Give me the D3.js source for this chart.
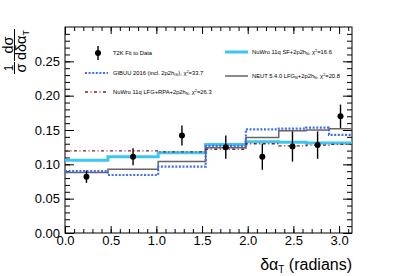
<!DOCTYPE html>
<html>
<head>
<meta charset="utf-8">
<script src="https://cdn.jsdelivr.net/npm/d3@7"></script>
<style>
  body { margin: 0; background: #fff; }
  svg { display: block; font-family: "Liberation Sans", Arial, Helvetica, sans-serif; }
  .tick line { stroke: #000; }
  .domain { display: none; }
</style>
</head>
<body>
<div id="chart"></div>
<script>
// bin edges in delta alpha_T (radians)
var binEdges = [0, 0.47, 1.02, 1.54, 1.98, 2.34, 2.64, 2.89, Math.PI];

// T2K fit to data
var dataVals = [0.082, 0.111, 0.142, 0.125, 0.111, 0.126, 0.128, 0.170];
var dataErrs = [0.009, 0.0125, 0.0145, 0.017, 0.019, 0.022, 0.020, 0.017];

// generator predictions
var nuwroSF  = [0.106, 0.111, 0.117, 0.129, 0.133, 0.132, 0.131, 0.131];
var neut     = [0.088, 0.093, 0.104, 0.124, 0.139, 0.149, 0.150, 0.152];
var gibuu    = [0.090, 0.0845, 0.0966, 0.127, 0.151, 0.152, 0.1535, 0.143];
var nuwroLFG = [0.1195, 0.1195, 0.118, 0.122, 0.130, 0.127, 0.128, 0.129];

var xTicks = [0, 0.5, 1.0, 1.5, 2.0, 2.5, 3.0];
var yTicks = [0, 0.05, 0.10, 0.15, 0.20, 0.25];

var width = 407, height = 276;
var plotL = 65, plotR = 352, plotT = 27, plotB = 233;

var svg = d3.select("#chart").append("svg")
    .attr("width", width)
    .attr("height", height);

var x = d3.scaleLinear().domain([0, Math.PI]).range([plotL, plotR]);
var y = d3.scaleLinear().domain([0, 0.30]).range([plotB, plotT]);

// axes, ROOT style: ticks inside on all four sides
var xMinor = d3.range(0, 3.15, 0.1);
var yMinor = d3.range(0, 0.30, 0.01);

svg.append("g").attr("transform", "translate(0," + plotB + ")")
    .call(d3.axisBottom(x).tickValues(xMinor).tickSize(-4).tickFormat(""));
svg.append("g").attr("transform", "translate(0," + plotB + ")")
    .call(d3.axisBottom(x).tickValues(xTicks).tickSize(-7).tickPadding(3)
      .tickFormat(d3.format(".1f")))
    .selectAll("text").attr("font-size", 13).attr("fill", "#000").attr("font-family", null);
svg.append("g").attr("transform", "translate(0," + plotT + ")")
    .call(d3.axisTop(x).tickValues(xMinor).tickSize(-4).tickFormat(""));
svg.append("g").attr("transform", "translate(0," + plotT + ")")
    .call(d3.axisTop(x).tickValues(xTicks).tickSize(-7).tickFormat(""));

svg.append("g").attr("transform", "translate(" + plotL + ",0)")
    .call(d3.axisLeft(y).tickValues(yMinor).tickSize(-5).tickFormat(""));
svg.append("g").attr("transform", "translate(" + plotL + ",0)")
    .call(d3.axisLeft(y).tickValues(yTicks).tickSize(-9).tickPadding(5)
      .tickFormat(d3.format(".2f")))
    .selectAll("text").attr("font-size", 13).attr("fill", "#000").attr("font-family", null);
svg.append("g").attr("transform", "translate(" + plotR + ",0)")
    .call(d3.axisRight(y).tickValues(yMinor).tickSize(-5).tickFormat(""));
svg.append("g").attr("transform", "translate(" + plotR + ",0)")
    .call(d3.axisRight(y).tickValues(yTicks).tickSize(-9).tickFormat(""));

svg.append("rect")
    .attr("x", plotL).attr("y", plotT)
    .attr("width", plotR - plotL).attr("height", plotB - plotT)
    .attr("fill", "none").attr("stroke", "#000").attr("stroke-width", 1);

// histograms as step outlines
function stepPoints(vals) {
  var pts = vals.map(function(v, i) { return [binEdges[i], v]; });
  pts.push([binEdges[binEdges.length - 1], vals[vals.length - 1]]);
  return pts;
}
var step = d3.line()
    .x(function(d) { return x(d[0]); })
    .y(function(d) { return y(d[1]); })
    .curve(d3.curveStepAfter);

var models = [
  {vals: nuwroSF,  color: "#3cc6f2", w: 3,   dash: null},
  {vals: neut,     color: "#666666", w: 1.5, dash: null},
  {vals: gibuu,    color: "#3f6ef0", w: 2.2, dash: "2,1.6"},
  {vals: nuwroLFG, color: "#8c1c1c", w: 1.3, dash: "3,2.5,1,2.5"}
];
models.forEach(function(m) {
  svg.append("path")
      .datum(stepPoints(m.vals))
      .attr("d", step)
      .attr("fill", "none")
      .attr("stroke", m.color)
      .attr("stroke-width", m.w)
      .attr("stroke-dasharray", m.dash);
});

// data points with error bars
var centers = dataVals.map(function(v, i) { return (binEdges[i] + binEdges[i + 1]) / 2; });
var pts = svg.append("g").selectAll("g")
    .data(dataVals)
  .enter().append("g");
pts.append("line")
    .attr("x1", function(d, i) { return x(centers[i]); })
    .attr("x2", function(d, i) { return x(centers[i]); })
    .attr("y1", function(d, i) { return y(d + dataErrs[i]); })
    .attr("y2", function(d, i) { return y(d - dataErrs[i]); })
    .attr("stroke", "#000").attr("stroke-width", 1.4);
pts.append("circle")
    .attr("cx", function(d, i) { return x(centers[i]); })
    .attr("cy", function(d) { return y(d); })
    .attr("r", 3)
    .attr("fill", "#000");

// legend
var lg = svg.append("g").attr("font-size", 5.8).attr("fill", "#000");
function legendText(g, xx, yy, parts) {
  var t = g.append("text").attr("x", xx).attr("y", yy + 2);
  parts.forEach(function(p) {
    if (typeof p === "string") t.append("tspan").text(p);
    else t.append("tspan").attr("font-size", 3.8)
        .attr("baseline-shift", p.sub ? "-25%" : "50%").text(p.t);
  });
}
lg.append("line").attr("x1", 98).attr("x2", 98).attr("y1", 46).attr("y2", 60)
    .attr("stroke", "#000").attr("stroke-width", 1.4);
lg.append("circle").attr("cx", 98).attr("cy", 53).attr("r", 3).attr("fill", "#000");
legendText(lg, 113, 53, ["T2K Fit to Data"]);

var legendRows = [
  {m: models[2], x: 85, y: 73, parts: ["GIBUU 2016 (incl. 2p2h", {t: "GI", sub: true}, "), \u03c7", {t: "2"}, "=33.7"]},
  {m: models[3], x: 85, y: 92, parts: ["NuWro 11q LFG+RPA+2p2h", {t: "N", sub: true}, ", \u03c7", {t: "2"}, "=26.3"]},
  {m: models[0], x: 225, y: 52, parts: ["NuWro 11q SF+2p2h", {t: "N", sub: true}, ", \u03c7", {t: "2"}, "=16.6"]},
  {m: models[1], x: 225, y: 76, parts: ["NEUT 5.4.0 LFG", {t: "N", sub: true}, "+2p2h", {t: "N", sub: true}, ", \u03c7", {t: "2"}, "=20.8"]}
];
legendRows.forEach(function(r) {
  lg.append("line")
      .attr("x1", r.x).attr("x2", r.x + 23).attr("y1", r.y).attr("y2", r.y)
      .attr("stroke", r.m.color).attr("stroke-width", r.m.w)
      .attr("stroke-dasharray", r.m.dash);
  legendText(lg, r.x + (r.x > 200 ? 27 : 28), r.y, r.parts);
});

// axis titles
var xt = svg.append("text")
    .attr("x", plotR).attr("y", 270)
    .attr("text-anchor", "end").attr("font-size", 16);
xt.append("tspan").text("\u03b4\u03b1");
xt.append("tspan").attr("font-size", 10).attr("baseline-shift", "-25%").text("T");
xt.append("tspan").text(" (radians)");

var yt = svg.append("g").attr("transform", "translate(14.5,0) rotate(-90)")
    .attr("font-size", 14.5).attr("text-anchor", "middle");
yt.append("text").attr("x", -68).attr("y", -1.5).attr("font-size", 12).text("1");
yt.append("line").attr("x1", -74).attr("x2", -62).attr("y1", 0).attr("y2", 0)
    .attr("stroke", "#000").attr("stroke-width", 1);
yt.append("text").attr("x", -68).attr("y", 11).text("\u03c3");
yt.append("text").attr("x", -45).attr("y", -1.5).text("d\u03c3");
yt.append("line").attr("x1", -61).attr("x2", -29).attr("y1", 0).attr("y2", 0)
    .attr("stroke", "#000").attr("stroke-width", 1);
var den = yt.append("text").attr("x", -45).attr("y", 11);
den.append("tspan").text("d\u03b4\u03b1");
den.append("tspan").attr("font-size", 9).attr("baseline-shift", "-30%").text("T");
</script>
</body>
</html>
